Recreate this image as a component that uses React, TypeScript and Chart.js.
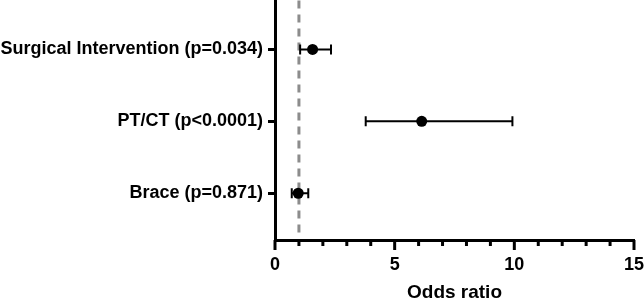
import React, { useEffect, useRef } from 'react';
import { Chart, registerables } from 'chart.js';

Chart.register(...registerables);

const categories = ['Surgical Intervention (p=0.034)', 'PT/CT (p<0.0001)', 'Brace (p=0.871)'];
const rowPositions = [3, 2, 1];
const oddsRatio = [1.57, 6.13, 0.97];
const ciLower = [1.05, 3.79, 0.7];
const ciUpper = [2.34, 9.92, 1.39];
const referenceLine = 1;
const xMin = 0;
const xMax = 15;
const xMajorStep = 5;
const xTitle = 'Odds ratio';

const FONT = "'Liberation Sans', Arial, Helvetica, sans-serif";

const forestPlugin = {
  id: 'forest',
  beforeDatasetsDraw(chart: any) {
    const { ctx, chartArea, scales } = chart;
    const x = scales.x;
    const y = scales.y;
    ctx.save();
    const rx = x.getPixelForValue(referenceLine);
    ctx.strokeStyle = '#8c8c8c';
    ctx.lineWidth = 3;
    ctx.setLineDash([8, 6]);
    ctx.beginPath();
    ctx.moveTo(rx, chartArea.top);
    ctx.lineTo(rx, chartArea.bottom - 7);
    ctx.stroke();
    ctx.setLineDash([]);
    ctx.strokeStyle = '#000';
    ctx.lineWidth = 2;
    for (let i = 0; i < oddsRatio.length; i++) {
      const py = y.getPixelForValue(rowPositions[i]);
      const lx = x.getPixelForValue(ciLower[i]);
      const ux = x.getPixelForValue(ciUpper[i]);
      ctx.beginPath();
      ctx.moveTo(lx, py);
      ctx.lineTo(ux, py);
      ctx.moveTo(lx, py - 5);
      ctx.lineTo(lx, py + 5);
      ctx.moveTo(ux, py - 5);
      ctx.lineTo(ux, py + 5);
      ctx.stroke();
    }
    ctx.restore();
  },
  afterDraw(chart: any) {
    const { ctx, chartArea, scales } = chart;
    const x = scales.x;
    ctx.save();
    ctx.strokeStyle = '#000';
    ctx.lineWidth = 3;
    for (let v = xMin; v <= xMax; v++) {
      const px = x.getPixelForValue(v);
      const len = v % xMajorStep === 0 ? 10 : 6;
      ctx.beginPath();
      ctx.moveTo(px, chartArea.bottom);
      ctx.lineTo(px, chartArea.bottom + len);
      ctx.stroke();
    }
    ctx.restore();
  },
};

export default function App() {
  const ref = useRef<HTMLCanvasElement | null>(null);
  useEffect(() => {
    if (!ref.current) return;
    const chart = new Chart(ref.current, {
      type: 'scatter',
      data: {
        datasets: [
          {
            data: oddsRatio.map((v, i) => ({ x: v, y: rowPositions[i] })),
            pointRadius: 5.5,
            pointBackgroundColor: '#000',
            pointBorderColor: '#000',
            pointBorderWidth: 0,
          },
        ],
      },
      options: {
        responsive: false,
        animation: false,
        devicePixelRatio: 1,
        layout: { padding: { top: 0, right: 10, left: 0, bottom: 0 } },
        plugins: { legend: { display: false }, tooltip: { enabled: false } },
        scales: {
          x: {
            type: 'linear',
            min: xMin,
            max: xMax,
            ticks: {
              stepSize: 1,
              autoSkip: false,
              maxRotation: 0,
              padding: 4,
              color: '#000',
              font: { family: FONT, size: 18, weight: 'bold' },
              callback: (v: any) => (Number(v) % xMajorStep === 0 ? String(v) : ''),
            },
            grid: { display: true, drawOnChartArea: false, drawTicks: true, tickLength: 10, tickColor: 'rgba(0,0,0,0)' },
            border: { display: true, color: '#000', width: 3 },
            title: {
              display: true,
              text: xTitle,
              color: '#000',
              font: { family: FONT, size: 19, weight: 'bold' },
              padding: { top: 0, bottom: -4 },
            },
            afterFit: (s: any) => {
              s.height = 60;
              s.paddingLeft = 0;
              s.paddingRight = 0;
            },
          },
          y: {
            type: 'linear',
            min: 0.35,
            max: 3.68,
            afterBuildTicks: (s: any) => {
              s.ticks = rowPositions.map((v) => ({ value: v }));
            },
            ticks: {
              color: '#000',
              padding: 5,
              font: { family: FONT, size: 18, weight: 'bold' },
              callback: (v: any) => categories[rowPositions.indexOf(Number(v))] ?? '',
            },
            grid: { display: true, drawOnChartArea: false, drawTicks: true, tickLength: 7, tickWidth: 3, tickColor: '#000' },
            border: { display: true, color: '#000', width: 3 },
            afterFit: (s: any) => {
              s.width = 275;
              s.paddingTop = 0;
              s.paddingBottom = 0;
            },
          },
        },
      },
      plugins: [forestPlugin],
    });
    return () => chart.destroy();
  }, []);
  return (
    <div style={{ position: 'absolute', left: 0, top: 0, width: 644, height: 300, overflow: 'hidden', background: '#fff' }}>
      <canvas ref={ref} width={644} height={305} style={{ display: 'block', marginTop: -5 }} />
    </div>
  );
}
